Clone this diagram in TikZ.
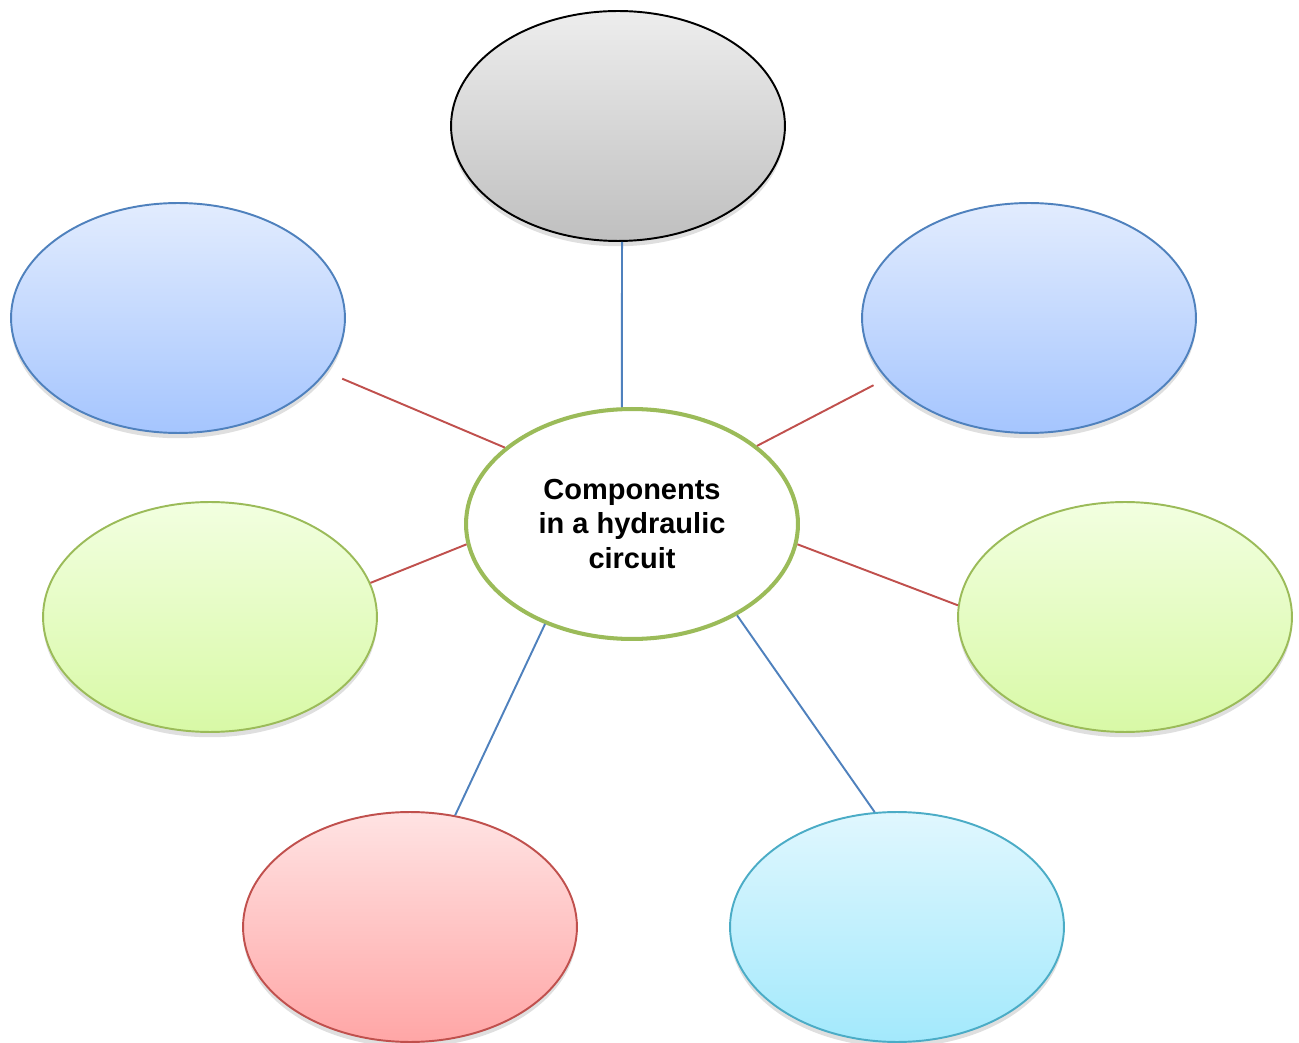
\documentclass[tikz,border=0pt]{standalone}
\usepackage{fontspec}
\setmainfont{Liberation Sans}
\usetikzlibrary{shapes.geometric,shadows}

\definecolor{hubgreen}{HTML}{9BBB59}
\definecolor{linered}{HTML}{C0504D}
\definecolor{lineblue}{HTML}{4F81BD}
\definecolor{linecyan}{HTML}{4BACC6}

\tikzset{
	bubble/.style={ellipse, minimum width=6.68cm, minimum height=4.6cm, inner sep=0pt, line width=1.1pt,
		drop shadow={shadow xshift=0pt, shadow yshift=-3pt, opacity=0.25}},
	graybubble/.style={bubble, draw=black, top color=black!7, bottom color=black!25},
	bluebubble/.style={bubble, draw=lineblue, top color={rgb,255:red,226;green,236;blue,254}, bottom color={rgb,255:red,165;green,197;blue,254}},
	greenbubble/.style={bubble, draw=hubgreen, top color={rgb,255:red,242;green,255;blue,224}, bottom color={rgb,255:red,216;green,249;blue,166}},
	redbubble/.style={bubble, draw=linered, top color={rgb,255:red,255;green,227;blue,227}, bottom color={rgb,255:red,255;green,166;blue,166}},
	cyanbubble/.style={bubble, draw=linecyan, top color={rgb,255:red,224;green,247;blue,254}, bottom color={rgb,255:red,163;green,233;blue,252}},
	hubbubble/.style={ellipse, minimum width=6.64cm, minimum height=4.6cm, inner sep=0pt, draw=hubgreen, line width=2.3pt, fill=white, align=center,
		font=\fontsize{16.5}{19.6}\selectfont\bfseries},
	redspoke/.style={draw=linered, line width=1.1pt},
	bluespoke/.style={draw=lineblue, line width=1.1pt}
}

\begin{document}
\begin{tikzpicture}[x=0.02cm, y=-0.02cm]
	%%%%% START %%%%%
	\useasboundingbox (0, 0) rectangle (1299, 1043);
	
	\node[graybubble] (top) at (618, 126) {};
	\node[bluebubble] (lb) at (178, 318) {};
	\node[bluebubble] (rb) at (1029, 318) {};
	\node[greenbubble] (lg) at (210, 617) {};
	\node[greenbubble] (rg) at (1125, 617) {};
	\node[redbubble] (bl) at (410, 927) {};
	\node[cyanbubble] (br) at (897, 927) {};
	
	\node[hubbubble] (hub) at (632, 524) {Components\\in a hydraulic\\circuit};
	
	\draw[bluespoke] (top.-88) -- (hub.95);
	\draw[redspoke, shorten <=0.34cm] (lb.-20) -- (hub.149);
	\draw[redspoke, shorten <=0.28cm] (rb.-157) -- (hub.32);
	\draw[redspoke] (lg.12) -- (hub.-173);
	\draw[redspoke] (hub.-7) -- (rg.176);
	\draw[bluespoke] (bl.68) -- (hub.-131);
	\draw[bluespoke] (br.101) -- (hub.-41);
	
	%%%%% END %%%%%
\end{tikzpicture}
\end{document}
